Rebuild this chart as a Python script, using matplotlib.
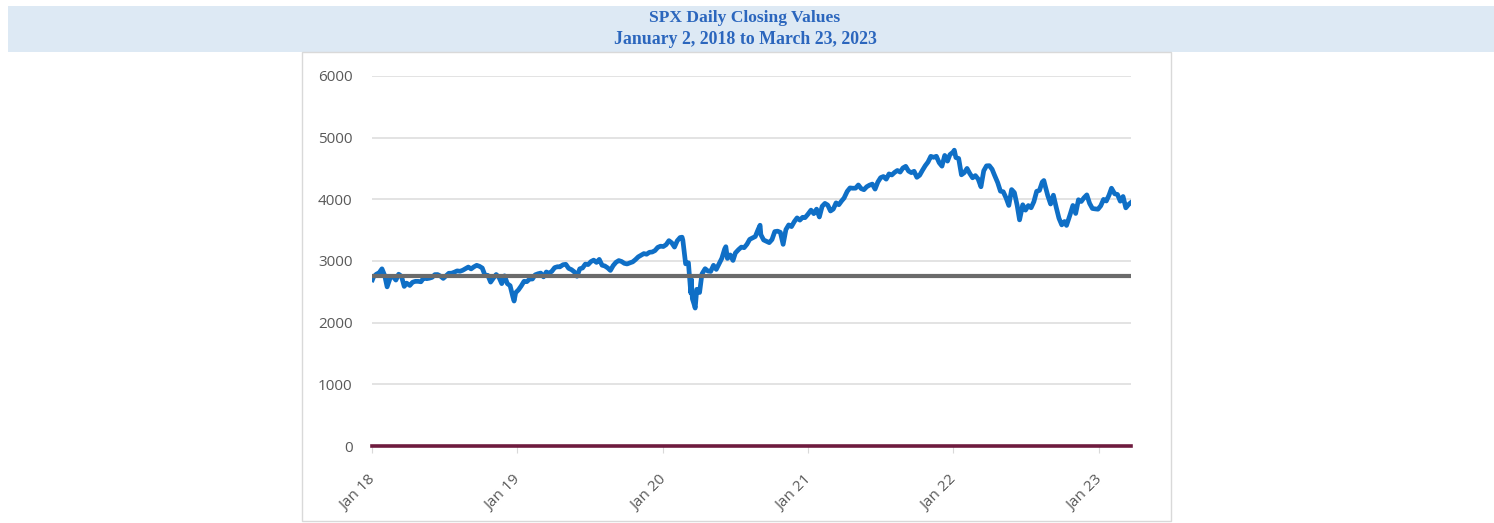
import matplotlib
matplotlib.use("Agg")
import matplotlib.pyplot as plt
import matplotlib.transforms as mtransforms
from matplotlib.patches import Rectangle
import pandas as pd

title_lines = ["SPX Daily Closing Values", "January 2, 2018 to March 23, 2023"]
y_ticks = [0, 1000, 2000, 3000, 4000, 5000, 6000]
x_tick_dates = ["2018-01-01", "2019-01-01", "2020-01-01", "2021-01-01", "2022-01-01", "2023-01-01"]
x_tick_labels = ["Jan 18", "Jan 19", "Jan 20", "Jan 21", "Jan 22", "Jan 23"]
reference_level = 2750
zero_level = 0

dates = [
    "2018-01-02", "2018-01-05", "2018-01-12", "2018-01-19", "2018-01-26", "2018-02-02", "2018-02-08", "2018-02-16",
    "2018-02-23", "2018-03-02", "2018-03-09", "2018-03-16", "2018-03-23", "2018-03-29", "2018-04-06", "2018-04-13",
    "2018-04-20", "2018-04-27", "2018-05-04", "2018-05-11", "2018-05-18", "2018-05-25", "2018-06-01", "2018-06-08",
    "2018-06-15", "2018-06-22", "2018-06-29", "2018-07-06", "2018-07-13", "2018-07-20", "2018-07-27", "2018-08-03",
    "2018-08-10", "2018-08-17", "2018-08-24", "2018-08-31", "2018-09-07", "2018-09-14", "2018-09-21", "2018-09-28",
    "2018-10-05", "2018-10-12", "2018-10-19", "2018-10-26", "2018-11-02", "2018-11-09", "2018-11-16", "2018-11-23",
    "2018-11-30", "2018-12-07", "2018-12-14", "2018-12-21", "2018-12-24", "2018-12-28",
    "2019-01-04", "2019-01-11", "2019-01-18", "2019-01-25", "2019-02-01", "2019-02-08", "2019-02-15", "2019-02-22",
    "2019-03-01", "2019-03-08", "2019-03-15", "2019-03-22", "2019-03-29", "2019-04-05", "2019-04-12", "2019-04-18",
    "2019-04-26", "2019-05-03", "2019-05-10", "2019-05-17", "2019-05-24", "2019-05-31", "2019-06-07", "2019-06-14",
    "2019-06-21", "2019-06-28", "2019-07-05", "2019-07-12", "2019-07-19", "2019-07-26", "2019-08-02", "2019-08-09",
    "2019-08-16", "2019-08-23", "2019-08-30", "2019-09-06", "2019-09-13", "2019-09-20", "2019-09-27", "2019-10-04",
    "2019-10-11", "2019-10-18", "2019-10-25", "2019-11-01", "2019-11-08", "2019-11-15", "2019-11-22", "2019-11-29",
    "2019-12-06", "2019-12-13", "2019-12-20", "2019-12-27",
    "2020-01-03", "2020-01-10", "2020-01-17", "2020-01-24", "2020-01-31", "2020-02-07", "2020-02-14", "2020-02-19",
    "2020-02-21", "2020-02-28", "2020-03-06", "2020-03-12", "2020-03-13", "2020-03-16", "2020-03-20", "2020-03-23",
    "2020-03-27", "2020-04-03", "2020-04-09", "2020-04-17", "2020-04-24", "2020-05-01", "2020-05-08", "2020-05-15",
    "2020-05-22", "2020-05-29", "2020-06-05", "2020-06-08", "2020-06-12", "2020-06-19", "2020-06-26", "2020-07-02",
    "2020-07-10", "2020-07-17", "2020-07-24", "2020-07-31", "2020-08-07", "2020-08-14", "2020-08-21", "2020-08-28",
    "2020-09-02", "2020-09-04", "2020-09-11", "2020-09-18", "2020-09-25", "2020-10-02", "2020-10-09", "2020-10-16",
    "2020-10-23", "2020-10-30", "2020-11-06", "2020-11-13", "2020-11-20", "2020-11-27", "2020-12-04", "2020-12-11",
    "2020-12-18", "2020-12-24", "2020-12-31",
    "2021-01-08", "2021-01-15", "2021-01-22", "2021-01-29", "2021-02-05", "2021-02-12", "2021-02-19", "2021-02-26",
    "2021-03-05", "2021-03-12", "2021-03-19", "2021-03-26", "2021-04-01", "2021-04-09", "2021-04-16", "2021-04-23",
    "2021-04-30", "2021-05-07", "2021-05-14", "2021-05-21", "2021-05-28", "2021-06-04", "2021-06-11", "2021-06-18",
    "2021-06-25", "2021-07-02", "2021-07-09", "2021-07-16", "2021-07-23", "2021-07-30", "2021-08-06", "2021-08-13",
    "2021-08-20", "2021-08-27", "2021-09-03", "2021-09-10", "2021-09-17", "2021-09-24", "2021-10-01", "2021-10-08",
    "2021-10-15", "2021-10-22", "2021-10-29", "2021-11-05", "2021-11-12", "2021-11-19", "2021-11-26", "2021-12-03",
    "2021-12-10", "2021-12-17", "2021-12-23", "2021-12-31",
    "2022-01-03", "2022-01-07", "2022-01-14", "2022-01-21", "2022-01-28", "2022-02-04", "2022-02-11", "2022-02-18",
    "2022-02-25", "2022-03-04", "2022-03-11", "2022-03-18", "2022-03-25", "2022-04-01", "2022-04-08", "2022-04-14",
    "2022-04-22", "2022-04-29", "2022-05-06", "2022-05-13", "2022-05-20", "2022-05-27", "2022-06-03", "2022-06-10",
    "2022-06-16", "2022-06-24", "2022-07-01", "2022-07-08", "2022-07-15", "2022-07-22", "2022-07-29", "2022-08-05",
    "2022-08-12", "2022-08-16", "2022-08-19", "2022-08-26", "2022-09-02", "2022-09-09", "2022-09-16", "2022-09-23",
    "2022-09-30", "2022-10-07", "2022-10-12", "2022-10-21", "2022-10-28", "2022-11-04", "2022-11-11", "2022-11-18",
    "2022-11-25", "2022-12-02", "2022-12-09", "2022-12-16", "2022-12-23", "2022-12-30",
    "2023-01-06", "2023-01-13", "2023-01-20", "2023-01-27", "2023-02-02", "2023-02-10", "2023-02-17", "2023-02-24",
    "2023-03-03", "2023-03-10", "2023-03-17", "2023-03-23",
]
closes = [
    2695, 2743, 2786, 2810, 2873, 2762, 2581, 2732,
    2747, 2691, 2786, 2752, 2588, 2641, 2604, 2656,
    2670, 2670, 2663, 2728, 2713, 2721, 2735, 2779,
    2780, 2755, 2718, 2760, 2801, 2802, 2819, 2840,
    2833, 2850, 2875, 2902, 2872, 2905, 2930, 2914,
    2886, 2767, 2768, 2658, 2723, 2781, 2736, 2633,
    2760, 2633, 2600, 2417, 2351, 2486,
    2532, 2596, 2671, 2665, 2707, 2708, 2776, 2793,
    2804, 2743, 2822, 2801, 2834, 2893, 2907, 2905,
    2940, 2946, 2881, 2860, 2826, 2752, 2873, 2887,
    2950, 2942, 2990, 3014, 2977, 3026, 2932, 2919,
    2889, 2847, 2926, 2979, 3007, 2992, 2962, 2952,
    2970, 2986, 3023, 3067, 3093, 3120, 3110, 3141,
    3146, 3169, 3221, 3240,
    3235, 3265, 3330, 3295, 3226, 3328, 3380, 3386,
    3338, 2954, 2972, 2481, 2711, 2386, 2305, 2237,
    2541, 2489, 2790, 2875, 2837, 2831, 2930, 2864,
    2955, 3044, 3194, 3232, 3041, 3098, 3009, 3130,
    3185, 3225, 3216, 3271, 3351, 3373, 3397, 3508,
    3580, 3427, 3341, 3319, 3298, 3348, 3477, 3484,
    3465, 3270, 3510, 3585, 3558, 3638, 3699, 3663,
    3709, 3703, 3756,
    3825, 3768, 3841, 3714, 3887, 3934, 3907, 3811,
    3842, 3943, 3913, 3975, 4020, 4129, 4185, 4180,
    4181, 4233, 4174, 4156, 4204, 4230, 4247, 4166,
    4281, 4352, 4370, 4327, 4412, 4395, 4437, 4468,
    4442, 4509, 4535, 4459, 4433, 4455, 4357, 4391,
    4471, 4545, 4605, 4697, 4682, 4698, 4595, 4538,
    4712, 4620, 4725, 4766,
    4797, 4677, 4663, 4398, 4432, 4501, 4419, 4349,
    4385, 4329, 4204, 4463, 4543, 4546, 4488, 4393,
    4272, 4132, 4123, 4024, 3901, 4158, 4109, 3901,
    3667, 3912, 3825, 3899, 3863, 3962, 4130, 4145,
    4280, 4305, 4228, 4058, 3924, 4067, 3873, 3693,
    3586, 3640, 3577, 3753, 3901, 3771, 3993, 3965,
    4026, 4072, 3934, 3852, 3845, 3840,
    3895, 3999, 3973, 4071, 4180, 4090, 4079, 3970,
    4046, 3862, 3917, 3949,
]

W, H = 1494, 523
fig = plt.figure(figsize=(W / 100, H / 100), dpi=100)
fig.patch.set_facecolor("white")

# title band
fig.patches.append(Rectangle((8 / W, 1 - 52 / H), (W - 8) / W, 46 / H,
                             transform=fig.transFigure, facecolor="#dde9f4",
                             edgecolor="none", zorder=-2))
fig.text(745 / W, 1 - 18 / H, title_lines[0], ha="center", va="center",
         family="Liberation Serif", fontweight="bold", fontsize=12.6, color="#2b66bd")
fig.text(745 / W, 1 - 39 / H, title_lines[1], ha="center", va="center",
         family="Liberation Serif", fontweight="bold", fontsize=12.8, color="#2b66bd")

# chart frame
fig.patches.append(Rectangle((302 / W, 1 - 521 / H), (1171 - 302) / W, (521 - 52) / H,
                             transform=fig.transFigure, facecolor="white",
                             edgecolor="#d9d9d9", linewidth=1.0, zorder=-1))

ax = fig.add_axes([372 / W, 1 - 446 / H, (1131 - 372) / W, (446 - 76) / H])
ax.set_zorder(5)
ax.set_facecolor("none")

d = pd.to_datetime(dates)
ax.plot(d, closes, color="#0f6fc6", linewidth=3.4, solid_joinstyle="round", zorder=3)
x0 = pd.Timestamp("2018-01-01")
x1 = pd.Timestamp("2023-03-23")
ax.plot([x0, x1], [reference_level, reference_level], color="#6b6b6b", linewidth=3.0, zorder=4)
ax.plot([x0, x1], [zero_level, zero_level], color="#6e1b3e", linewidth=2.6, zorder=4, clip_on=False)

ax.set_xlim(x0, x1)
ax.set_ylim(0, 6000)
ax.set_yticks(y_ticks)
ax.set_yticklabels([str(v) for v in y_ticks])
ax.yaxis.grid(True, color="#e0e0e0", linewidth=1.3)
ax.set_axisbelow(True)
ax.set_xticks(pd.to_datetime(x_tick_dates))
ax.set_xticklabels(x_tick_labels, rotation=45, ha="right", va="top", rotation_mode="anchor")
for s in ax.spines.values():
    s.set_visible(False)
ax.tick_params(axis="y", length=0, pad=14, labelsize=11, labelcolor="#595959")
ax.tick_params(axis="x", length=5, width=0.8, color="#d9d9d9", pad=14, labelsize=11, labelcolor="#595959")
shift = mtransforms.ScaledTranslation(-4 / 100, 0, fig.dpi_scale_trans)
for lab in ax.get_xticklabels():
    lab.set_transform(lab.get_transform() + shift)
for lab in ax.get_xticklabels() + ax.get_yticklabels():
    lab.set_family("Open Sans")

fig.savefig("out.png", dpi=100)
